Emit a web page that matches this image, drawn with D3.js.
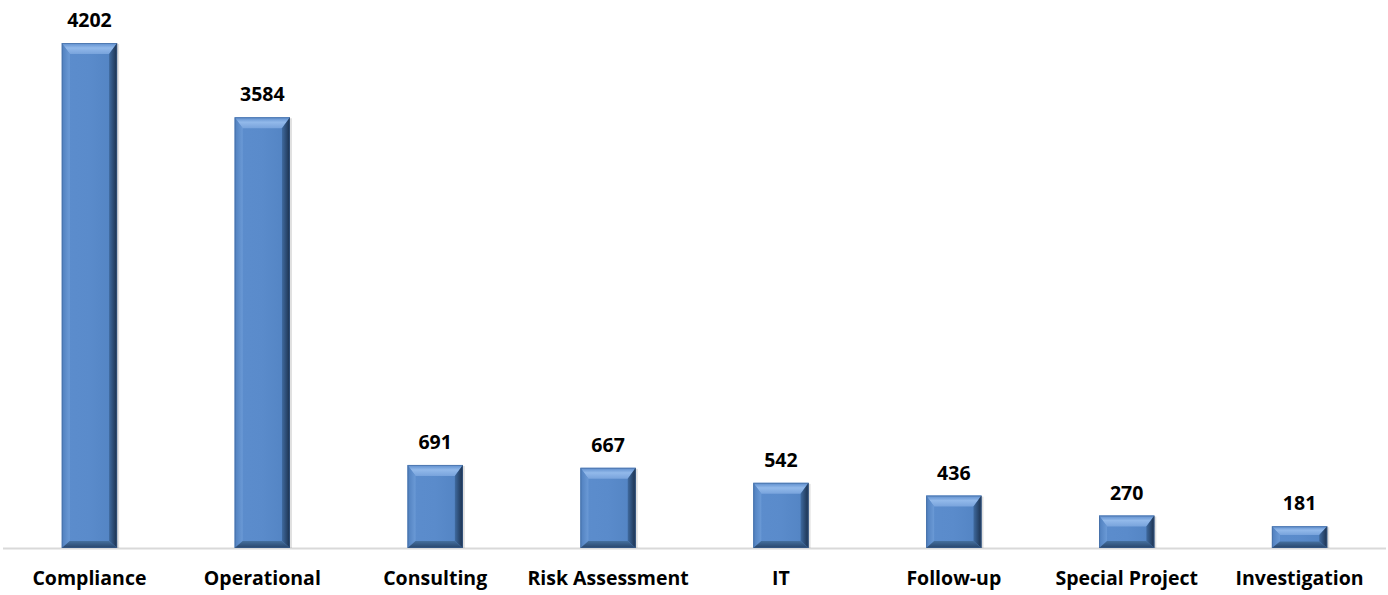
<!DOCTYPE html>
<html>
<head>
<meta charset="utf-8">
<script src="https://cdn.jsdelivr.net/npm/d3@7"></script>
<style>
  html, body { margin: 0; padding: 0; background: #ffffff; }
  svg { display: block; }
  text { font-family: "Open Sans", "Liberation Sans", sans-serif; font-weight: 700; fill: #000; }
</style>
</head>
<body>
<svg id="chart" width="1388" height="595"></svg>
<script>
// Audit engagements by type
const categories = ["Compliance", "Operational", "Consulting", "Risk Assessment", "IT", "Follow-up", "Special Project", "Investigation"];
const counts = [4202, 3584, 691, 667, 542, 436, 270, 181];

const width = 1388, height = 595;
const margin = { left: 3, right: 2, baseline: 548, top: 43 };

const svg = d3.select("#chart");
const defs = svg.append("defs");

// Gradients for the bevelled bar faces
function linGrad(id, x1, y1, x2, y2, stops) {
  const g = defs.append("linearGradient").attr("id", id)
    .attr("x1", x1).attr("y1", y1).attr("x2", x2).attr("y2", y2);
  stops.forEach(s => g.append("stop").attr("offset", s[0]).attr("stop-color", s[1]));
}
linGrad("face", 0, 0, 1, 0, [[0, "#5c8dcd"], [0.5, "#5a8bcb"], [1, "#5283c2"]]);
linGrad("topB", 0, 0, 0, 1, [[0, "#5c8ccc"], [0.45, "#92b9ea"], [1, "#78a3dc"]]);
linGrad("leftB", 0, 0, 1, 0, [[0, "#4f7fbe"], [1, "#6b9ad6"]]);
linGrad("rightB", 0, 0, 1, 0, [[0, "#3f6a9f"], [1, "#1b304c"]]);
linGrad("bottomB", 0, 0, 0, 1, [[0, "#45709f"], [1, "#27446a"]]);

const x = d3.scaleBand()
  .domain(categories)
  .range([margin.left, width - margin.right])
  .paddingInner(0.68)
  .paddingOuter(0.34);

const y = d3.scaleLinear()
  .domain([0, 4202])
  .range([margin.baseline, margin.top]);

// Baseline
svg.append("line")
  .attr("x1", margin.left).attr("x2", width - margin.right)
  .attr("y1", margin.baseline + 0.5).attr("y2", margin.baseline + 0.5)
  .attr("stroke", "#d9d9d9").attr("stroke-width", 2);

const bars = svg.append("g").selectAll("g")
  .data(categories.map((c, i) => ({ c, v: counts[i] })))
  .join("g");

bars.each(function(d) {
  const g = d3.select(this);
  const x0 = x(d.c), x1 = x0 + x.bandwidth();
  const y0 = y(d.v), y1 = y(0);
  const h = y1 - y0;
  const bt = Math.min(11, h * 0.4), bs = Math.min(8, x.bandwidth() * 0.15), bb = Math.min(7, h * 0.3);
  const pts = a => a.map(p => p.join(",")).join(" ");
  // soft shadow on the right
  g.append("rect").attr("x", x0 + 1).attr("y", y0 + 1).attr("width", x.bandwidth() + 1).attr("height", h - 1)
    .attr("fill", "#000").attr("opacity", 0.12);
  g.append("rect").attr("x", x0).attr("y", y0).attr("width", x.bandwidth()).attr("height", h)
    .attr("fill", "url(#face)");
  g.append("polygon").attr("points", pts([[x0, y0], [x1, y0], [x1 - bs, y0 + bt], [x0 + bs, y0 + bt]]))
    .attr("fill", "url(#topB)");
  g.append("polygon").attr("points", pts([[x0, y0], [x0 + bs, y0 + bt], [x0 + bs, y1 - bb], [x0, y1]]))
    .attr("fill", "url(#leftB)");
  g.append("polygon").attr("points", pts([[x1, y0], [x1, y1], [x1 - bs, y1 - bb], [x1 - bs, y0 + bt]]))
    .attr("fill", "url(#rightB)");
  g.append("polygon").attr("points", pts([[x0, y1], [x0 + bs, y1 - bb], [x1 - bs, y1 - bb], [x1, y1]]))
    .attr("fill", "url(#bottomB)");
  g.append("rect").attr("x", x0 + 0.5).attr("y", y0 + 0.5).attr("width", x.bandwidth() - 1).attr("height", h - 1)
    .attr("fill", "none").attr("stroke", "#3d6495").attr("stroke-opacity", 0.5);
});

// Value labels
bars.append("text")
  .attr("x", d => x(d.c) + x.bandwidth() / 2)
  .attr("y", d => y(d.v) - 16)
  .attr("text-anchor", "middle")
  .attr("font-size", 19.5)
  .text(d => d.v);

// Category labels
svg.append("g").selectAll("text")
  .data(categories)
  .join("text")
  .attr("x", d => x(d) + x.bandwidth() / 2)
  .attr("y", 585)
  .attr("text-anchor", "middle")
  .attr("font-size", 19.5)
  .text(d => d);
</script>
</body>
</html>
